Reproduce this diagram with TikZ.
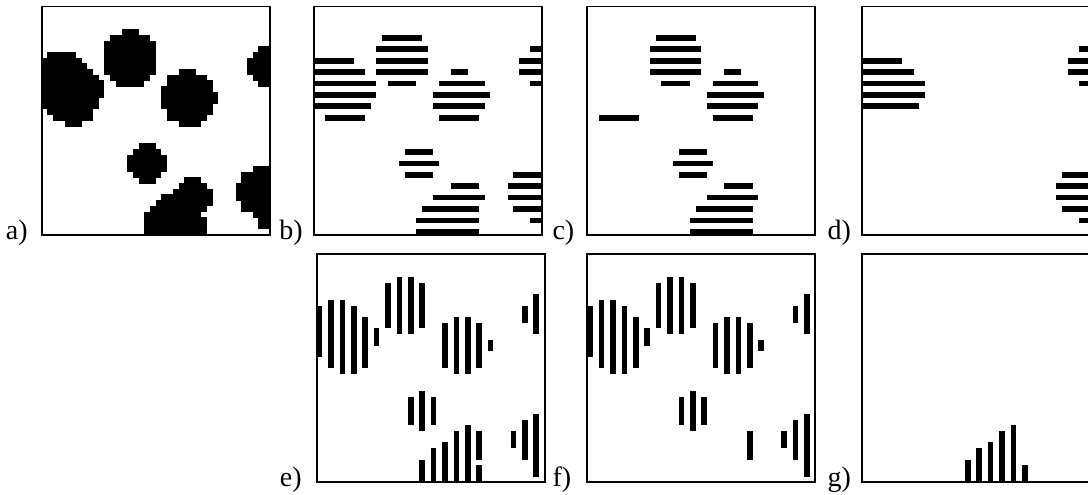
\documentclass[tikz,border=0pt]{standalone}
\usepackage{fontspec}
\setmainfont{Liberation Serif}
\tikzset{
  boxframe/.style={draw=black, line width=1.8pt},
  lab/.style={anchor=base west, inner sep=0pt, font=\fontsize{28}{30}\selectfont},
}
\def\pxs{5.7}
% horizontal runs: row/first col/last col
\newcommand\hruns[4]{%
  \foreach \row/\ca/\cb in #3 {%
    \fill ({#1+\ca*\pxs},{#2+\row*\pxs-#4}) rectangle ({#1+(\cb+1)*\pxs},{#2+(\row+1)*\pxs+#4});}}
% vertical runs: col/first row/last row
\newcommand\vruns[3]{%
  \foreach \col/\ra/\rb in #3 {%
    \fill ({#1+\col*\pxs},{#2+\ra*\pxs}) rectangle ({#1+(\col+1)*\pxs},{#2+(\rb+1)*\pxs});}}
\def\listFull{4/14/16, 5/12/18, 6/11/19, 7/11/19, 7/38/39, 8/1/5, 8/11/19, 8/37/39, 9/0/6, 9/11/19, 9/36/39, 10/0/7, 10/11/19, 10/36/39, 11/0/8, 11/11/19, 11/24/26, 11/36/39, 12/0/9, 12/12/18, 12/22/28, 12/37/39, 13/0/10, 13/13/17, 13/22/29, 13/38/39, 14/0/10, 14/21/29, 15/0/10, 15/21/30, 16/0/9, 16/21/30, 17/0/9, 17/21/29, 18/1/8, 18/22/29, 19/2/8, 19/22/28, 20/4/6, 20/24/27, 24/17/19, 25/16/20, 26/15/21, 27/15/21, 28/15/21, 28/37/39, 29/16/20, 29/35/39, 30/17/19, 30/25/27, 30/35/39, 31/24/28, 31/34/39, 32/23/29, 32/34/39, 33/21/29, 33/34/39, 34/20/29, 34/35/39, 35/19/28, 35/35/39, 36/18/27, 36/37/39, 37/18/28, 37/38/39, 38/18/28, 38/38/39, 39/18/28}
\def\listIn{5/12/18, 7/11/19, 9/11/19, 11/11/19, 11/24/26, 13/13/17, 13/22/29, 15/21/30, 17/21/29, 19/2/8, 19/22/28, 25/16/20, 27/15/21, 29/16/20, 31/24/28, 33/21/29, 35/19/28, 37/18/28, 39/18/28}
\def\listBd{7/38/39, 9/0/6, 9/36/39, 11/0/8, 11/36/39, 13/0/10, 13/38/39, 15/0/10, 17/0/9, 29/35/39, 31/34/39, 33/34/39, 35/35/39, 37/38/39}
\def\listVIn{0/9/17, 2/8/19, 4/8/20, 6/9/20, 8/11/19, 10/13/15, 12/5/12, 14/4/13, 16/4/13, 18/5/12, 16/25/29, 18/24/30, 20/25/29, 22/12/19, 24/11/20, 26/11/20, 28/12/19, 30/15/16, 28/31/35, 34/31/33, 36/9/11, 36/29/35, 38/7/13, 38/28/38}
\def\listVBd{18/36/39, 20/34/39, 22/33/39, 24/31/39, 26/30/39, 28/37/39}
\begin{document}
\begin{tikzpicture}[x=1pt,y=-1pt]
\useasboundingbox (0,0) rectangle (1088,495);
% panel positions (left, top)
\def\aL{41.7}  \def\aT{6.6}
\def\bL{313.7} \def\bT{6.6}
\def\cL{587.3} \def\cT{6.6}
\def\dL{862.3} \def\dT{6.6}
\def\eL{316.7} \def\eT{254.3}
\def\fL{587.3} \def\fT{254.3}
\def\gL{862.3} \def\gT{254.3}
% a) binary image
\hruns{\aL}{\aT}{\listFull}{0.25}
% b) all horizontal runs on odd rows
\hruns{\bL}{\bT}{\listIn}{0}
\hruns{\bL}{\bT}{\listBd}{0}
% c) runs not touching left/right border
\hruns{\cL}{\cT}{\listIn}{0}
% d) runs touching left/right border
\hruns{\dL}{\dT}{\listBd}{0}
% e) all vertical runs on even columns
\vruns{\eL}{\eT}{\listVIn}
\vruns{\eL}{\eT}{\listVBd}
% f) vertical runs not touching top/bottom
\vruns{\fL}{\fT}{\listVIn}
% g) vertical runs touching top/bottom
\vruns{\gL}{\gT}{\listVBd}
% frames
\draw[boxframe] (\aL,\aT) rectangle ++(228,228);
\draw[boxframe] (\bL,\bT) rectangle ++(228,228);
\draw[boxframe] (\cL,\cT) rectangle ++(228,228);
\draw[boxframe] (\dL,\dT) rectangle ++(228,228);
\draw[boxframe] (\eL,\eT) rectangle ++(228,228);
\draw[boxframe] (\fL,\fT) rectangle ++(228,228);
\draw[boxframe] (\gL,\gT) rectangle ++(228,228);
% labels
\node[lab] (la) at ({\aL-36},{\aT+232.5}) {a)};
\node[lab] (lb) at ({\bL-34.5},{\bT+232.5}) {b)};
\node[lab] (lc) at ({\cL-35},{\cT+232.5}) {c)};
\node[lab] (ld) at ({\dL-35},{\dT+232.5}) {d)};
\node[lab] (le) at ({\eL-37},{\eT+232.5}) {e)};
\node[lab] (lf) at ({\fL-35},{\fT+232.5}) {f)};
\node[lab] (lg) at ({\gL-35},{\gT+232.5}) {g)};
\end{tikzpicture}
\end{document}
